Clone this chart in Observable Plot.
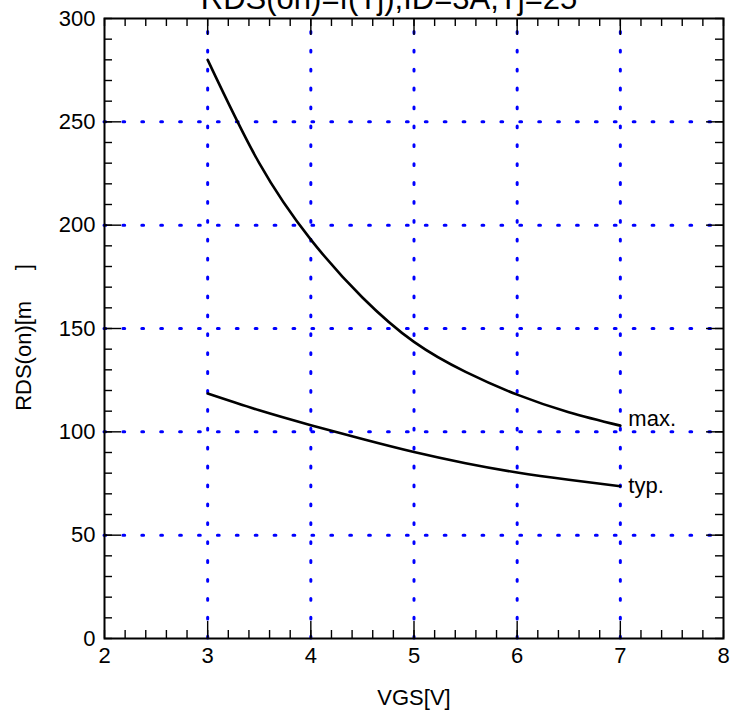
<!DOCTYPE html>
<html><head><meta charset="utf-8">
<script src="https://cdn.jsdelivr.net/npm/d3@7"></script>
<script src="https://cdn.jsdelivr.net/npm/@observablehq/plot@0.6"></script>
<style>body{margin:0;background:#fff;}</style>
</head><body><div id="chart"></div>
<script>
const title = "RDS(on)=f(Tj);ID=3A;Tj=25";
const xLabel = "VGS[V]";
const yLabel = "RDS(on)[m\u00A0\u00A0\u00A0\u00A0\u00A0]";
const vgs = [3, 3.5, 4, 4.5, 5, 5.5, 6, 6.5, 7];
const rdsMax = [280, 230, 193, 165, 143.5, 129, 118, 109.5, 103];
const rdsTyp = [118.5, 110.4, 103.2, 96.5, 90.2, 84.8, 80.3, 76.8, 73.7];
const seriesNames = ["max.", "typ."];
const xTicks = [2, 3, 4, 5, 6, 7, 8];
const yTicks = [0, 50, 100, 150, 200, 250, 300];
const xGrid = [3, 4, 5, 6, 7];
const yGrid = [50, 100, 150, 200, 250];

const W = 730, H = 713;
const mL = 104, mR = 7, mT = 18, mB = 75;
const plotW = W - mL - mR, plotH = H - mT - mB;
const xMinor = d3.range(10, 41).map(d => d / 5);
const yMinor = d3.range(0, 31).map(d => d * 10);

const maxData = vgs.map((x, i) => ({x, y: rdsMax[i]}));
const typData = vgs.map((x, i) => ({x, y: rdsTyp[i]}));
const last = vgs.length - 1;

const minorLen = 8, majorLen = 17;
const tk = {stroke: "black", strokeWidth: 1.4};
const grid = {stroke: "#0000ff", strokeWidth: 3, strokeDasharray: "1.8,17.1", strokeLinecap: "round"};

const chart = Plot.plot({
  width: W, height: H,
  marginLeft: mL, marginRight: mR, marginTop: mT, marginBottom: mB,
  x: {domain: [2, 8], axis: null},
  y: {domain: [0, 300], axis: null},
  style: {fontFamily: "'Liberation Sans', Arial, sans-serif", fontSize: "22px", background: "white", color: "black", overflow: "visible"},
  marks: [
    Plot.ruleX(xGrid, {x: d => d, y1: 0, y2: 300, ...grid}),
    Plot.ruleY(yGrid, {y: d => d, x1: 2, x2: 8, ...grid}),
    Plot.tickX(xMinor, {x: d => d, insetTop: plotH - minorLen, ...tk}),
    Plot.tickX(xMinor, {x: d => d, insetBottom: plotH - minorLen, ...tk}),
    Plot.tickY(yMinor, {y: d => d, insetRight: plotW - minorLen, ...tk}),
    Plot.tickY(yMinor, {y: d => d, insetLeft: plotW - minorLen, ...tk}),
    Plot.tickX(xGrid, {x: d => d, insetTop: plotH - majorLen, ...tk}),
    Plot.tickX(xGrid, {x: d => d, insetBottom: plotH - majorLen, ...tk}),
    Plot.tickY(yGrid, {y: d => d, insetRight: plotW - majorLen, ...tk}),
    Plot.tickY(yGrid, {y: d => d, insetLeft: plotW - majorLen, ...tk}),
    Plot.frame({stroke: "black", strokeWidth: 2}),
    Plot.line(maxData, {x: "x", y: "y", curve: "natural", stroke: "black", strokeWidth: 2.6}),
    Plot.line(typData, {x: "x", y: "y", curve: "natural", stroke: "black", strokeWidth: 2.6}),
    Plot.text([maxData[last]], {x: "x", y: "y", text: () => seriesNames[0], textAnchor: "start", dx: 8, dy: -7, fontSize: 22}),
    Plot.text([typData[last]], {x: "x", y: "y", text: () => seriesNames[1], textAnchor: "start", dx: 8, dy: 0, fontSize: 22}),
    Plot.axisX(xTicks, {anchor: "bottom", tickSize: 0, tickPadding: 9, fontSize: 22, label: null}),
    Plot.axisY(yTicks, {anchor: "left", tickSize: 0, tickPadding: 9, fontSize: 22, label: null}),
    Plot.text([xLabel], {frameAnchor: "bottom", lineAnchor: "middle", textAnchor: "middle", dy: 59, fontSize: 22}),
    Plot.text([yLabel], {frameAnchor: "left", lineAnchor: "middle", textAnchor: "middle", rotate: -90, dx: -81, dy: 9, fontSize: 22}),
    Plot.text([title], {frameAnchor: "top", lineAnchor: "bottom", textAnchor: "middle", dy: -10, dx: -25, fontSize: 31})
  ]
});
document.getElementById("chart").appendChild(chart);
</script>
</body></html>
